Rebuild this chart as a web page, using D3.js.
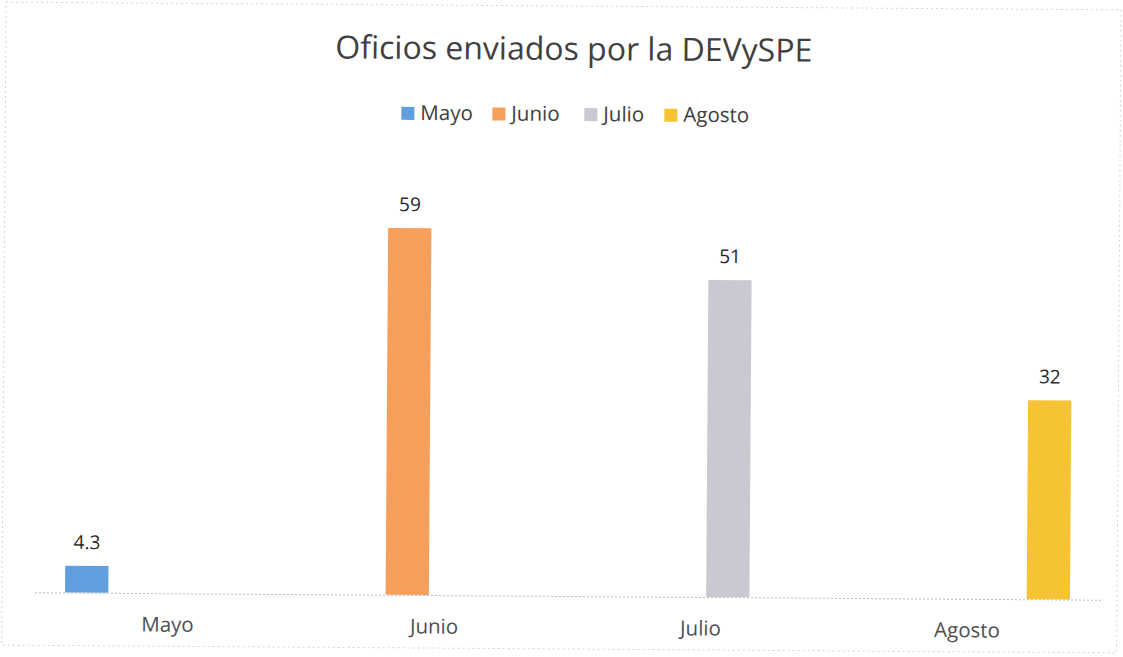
<!DOCTYPE html>
<html>
<head>
<meta charset="utf-8">
<script src="https://cdn.jsdelivr.net/npm/d3@7"></script>
<style>
  body { margin: 0; background: #fff; }
  text { font-family: "Open Sans", "Noto Sans", sans-serif; }
</style>
</head>
<body>
<div id="chart"></div>
<script>
const title = 'Oficios enviados por la DEVySPE';
const categories = ['Mayo', 'Junio', 'Julio', 'Agosto'];
const series = ['Mayo', 'Junio', 'Julio', 'Agosto'];
const values = [4.3, 59, 51, 32]; // one value per month, shown in its own series slot
const colors = ['#5f9fdf', '#f4a05c', '#c9c9d1', '#f5c333'];

const width = 1123;
const height = 657;
const baseline = 596;

const svg = d3.select('#chart')
  .append('svg')
  .attr('width', width)
  .attr('height', height)

// the reference is a slightly tilted scan
const g = svg.append('g')
  .attr('transform', 'rotate(0.4, 566, ' + baseline + ')')

g.append('rect')
  .attr('x', 2)
  .attr('y', 6)
  .attr('width', 1115)
  .attr('height', 643)
  .style('fill', 'none')
  .style('stroke', '#d4d4d4')
  .style('stroke-width', 1)
  .style('stroke-dasharray', '2,3')

const x0 = d3.scaleBand()
  .domain(categories)
  .range([34.5, 1100.5])
  .padding(0)

const x1 = d3.scaleBand()
  .domain(series)
  .range([0, x0.bandwidth()])
  .paddingInner(0.2)
  .paddingOuter(0.565)

const y = d3.scaleLinear()
  .domain([0, 60])
  .range([baseline, baseline - 373])

g.append('text')
  .text(title)
  .attr('x', 570)
  .attr('y', 60)
  .attr('text-anchor', 'middle')
  .style('font-size', '32px')
  .style('fill', '#404040')

// legend
const legendX = [398, 489, 581, 661];
const legend = g.selectAll('.legend')
  .data(series)
  .enter()
  .append('g')
  .attr('class', 'legend')
  .attr('transform', (d, i) => 'translate(' + legendX[i] + ', 114)')

legend.append('rect')
  .attr('x', 0)
  .attr('y', -6)
  .attr('width', 13)
  .attr('height', 13)
  .style('fill', (d, i) => colors[i])

legend.append('text')
  .text(d => d)
  .attr('x', 19)
  .attr('y', 7)
  .style('font-size', '20.5px')
  .style('fill', '#404040')

// bars
const rows = categories.map((c, i) => ({ cat: c, ser: series[i], value: values[i], color: colors[i] }));

g.selectAll('.bar')
  .data(rows)
  .enter()
  .append('rect')
  .attr('class', 'bar')
  .attr('x', d => x0(d.cat) + x1(d.ser))
  .attr('y', d => y(d.value))
  .attr('width', x1.bandwidth())
  .attr('height', d => y(0) - y(d.value))
  .style('fill', d => d.color)

g.selectAll('.label')
  .data(rows)
  .enter()
  .append('text')
  .attr('class', 'label')
  .text(d => d.value)
  .attr('x', d => x0(d.cat) + x1(d.ser) + x1.bandwidth() / 2)
  .attr('y', d => y(d.value) - 17)
  .attr('text-anchor', 'middle')
  .style('font-size', '19px')
  .style('fill', '#262626')

// x axis
const xAxis = d3.axisBottom(x0).tickSize(0).tickPadding(24);

const axis = g.append('g')
  .attr('transform', 'translate(0, ' + baseline + ')')
  .call(xAxis)

axis.select('.domain')
  .style('stroke', '#bcbcbc')
  .style('stroke-dasharray', '2,2')

axis.selectAll('text')
  .style('font-size', '20.5px')
  .style('fill', '#505050')
  .style('font-family', '"Open Sans", sans-serif')
</script>
</body>
</html>
